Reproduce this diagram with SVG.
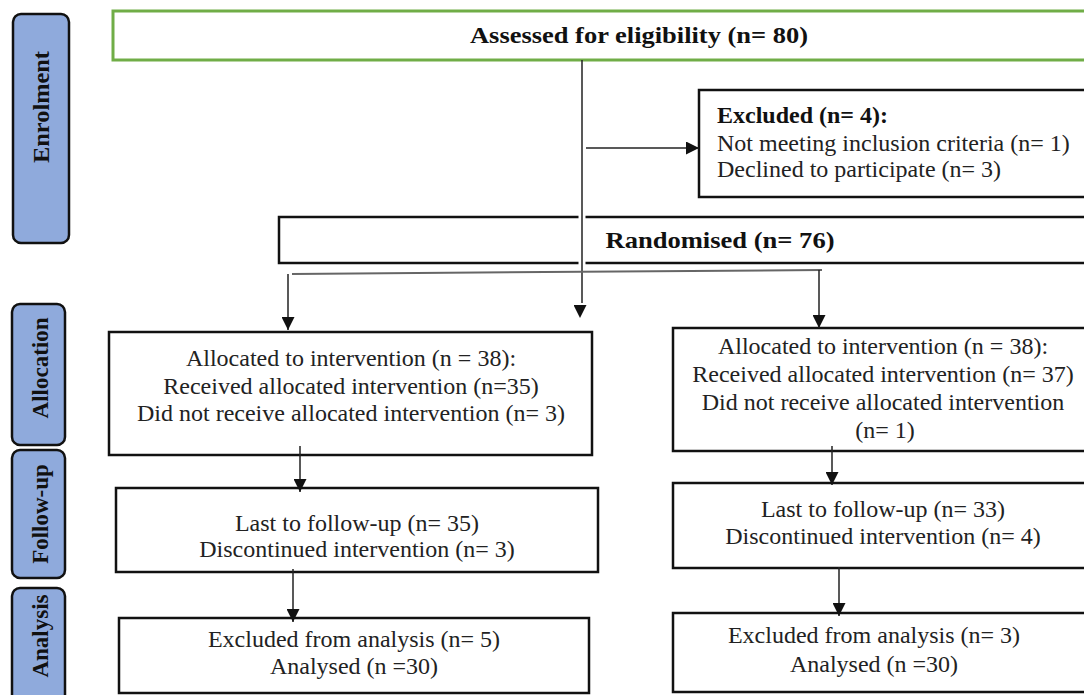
<svg xmlns="http://www.w3.org/2000/svg" width="1084" height="695" viewBox="0 0 1084 695">
<defs>
<marker id="ah" markerUnits="userSpaceOnUse" viewBox="0 0 12 12" refX="12" refY="6" markerWidth="13" markerHeight="13" orient="auto">
<path d="M0,0 L12,6 L0,12 z" fill="#111"/>
</marker>
<style>
text{font-family:'Liberation Serif','Times New Roman','DejaVu Serif',serif}
.tab{fill:#8FAADC;stroke:#111;stroke-width:2.5}
.tabt{font-weight:bold;font-size:23px;fill:#111;text-anchor:middle}
.box{fill:#fff;stroke:#111;stroke-width:2.5}
.gbox{fill:#fff;stroke:#70AD47;stroke-width:3}
.t{font-size:24px;fill:#222;text-anchor:middle}
.tl{font-size:24px;fill:#222}
.b{font-weight:bold;fill:#111}
.c{fill:none;stroke:#222;stroke-width:1.5}
.g{fill:none;stroke:#666;stroke-width:2}
</style>
</defs>
<g id="tab-enrolment"><rect class="tab" x="13" y="14" width="56" height="229" rx="8"/><text class="tabt" transform="translate(49,107) rotate(-90)" textLength="112" lengthAdjust="spacingAndGlyphs">Enrolment</text></g>
<g id="tab-allocation"><rect class="tab" x="12" y="304" width="53" height="141" rx="8"/><text class="tabt" transform="translate(48,368) rotate(-90)">Allocation</text></g>
<g id="tab-followup"><rect class="tab" x="12" y="450" width="53" height="128" rx="8"/><text class="tabt" transform="translate(48,514) rotate(-90)">Follow-up</text></g>
<g id="tab-analysis"><rect class="tab" x="12" y="588" width="53" height="130" rx="8"/><text class="tabt" transform="translate(48,636) rotate(-90)">Analysis</text></g>

<g id="assessed"><rect class="gbox" x="113" y="11" width="1000" height="49"/><text class="t b" x="639" y="43" font-size="27" textLength="338" lengthAdjust="spacingAndGlyphs">Assessed for eligibility (n= 80)</text></g>
<g id="excluded"><rect class="box" x="699" y="90" width="420" height="107"/>
<text class="tl b" x="717" y="123">Excluded (n= 4):</text>
<text class="tl" x="717" y="151">Not meeting inclusion criteria (n= 1)</text>
<text class="tl" x="717" y="177">Declined to participate (n= 3)</text></g>
<g id="randomised"><rect class="box" x="279" y="217" width="850" height="46"/><text class="t b" x="720" y="248" font-size="27" textLength="229" lengthAdjust="spacingAndGlyphs">Randomised (n= 76)</text></g>

<g id="alloc-left"><rect class="box" x="109" y="332" width="483" height="123"/>
<text class="t" x="351" y="366">Allocated to intervention (n = 38):</text>
<text class="t" x="351" y="394">Received allocated intervention (n=35)</text>
<text class="t" x="351" y="421">Did not receive allocated intervention (n= 3)</text></g>
<g id="follow-left"><rect class="box" x="116" y="488" width="482" height="84"/>
<text class="t" x="357" y="531">Last to follow-up (n= 35)</text>
<text class="t" x="357" y="557">Discontinued intervention (n= 3)</text></g>
<g id="analysis-left"><rect class="box" x="119" y="618" width="470" height="75"/>
<text class="t" x="354" y="647">Excluded from analysis (n= 5)</text>
<text class="t" x="354" y="674">Analysed (n =30)</text></g>

<g id="alloc-right"><rect class="box" x="673" y="328" width="450" height="123"/>
<text class="t" x="883" y="354">Allocated to intervention (n = 38):</text>
<text class="t" x="883" y="382">Received allocated intervention (n= 37)</text>
<text class="t" x="883" y="410">Did not receive allocated intervention</text>
<text class="t" x="885" y="438">(n= 1)</text></g>
<g id="follow-right"><rect class="box" x="673" y="483" width="450" height="85"/>
<text class="t" x="883" y="517">Last to follow-up (n= 33)</text>
<text class="t" x="883" y="544">Discontinued intervention (n= 4)</text></g>
<g id="analysis-right"><rect class="box" x="673" y="613" width="450" height="79"/>
<text class="t" x="874" y="643">Excluded from analysis (n= 3)</text>
<text class="t" x="874" y="672">Analysed (n =30)</text></g>

<g id="connectors">
<line x1="582" y1="200" x2="582" y2="280" stroke="#fff" stroke-width="7"/>
<path class="c" d="M582,60 L582,303" stroke="#555"/>
<path d="M580,300 L580,318" fill="none" stroke="none" marker-end="url(#ah)"/>
<path class="c" d="M586,148 L699,148" marker-end="url(#ah)"/>
<path class="g" d="M292,274 L822,270"/>
<path class="c" d="M288,274 L288,330" marker-end="url(#ah)"/>
<path class="c" d="M819,270 L819,328" marker-end="url(#ah)"/>
<path class="c" d="M300,446 L300,492" marker-end="url(#ah)"/>
<path class="c" d="M293,569 L293,622" marker-end="url(#ah)"/>
<path class="c" d="M832,446 L832,485" marker-end="url(#ah)"/>
<path class="c" d="M839,567 L839,616" marker-end="url(#ah)"/>
</g>
</svg>
